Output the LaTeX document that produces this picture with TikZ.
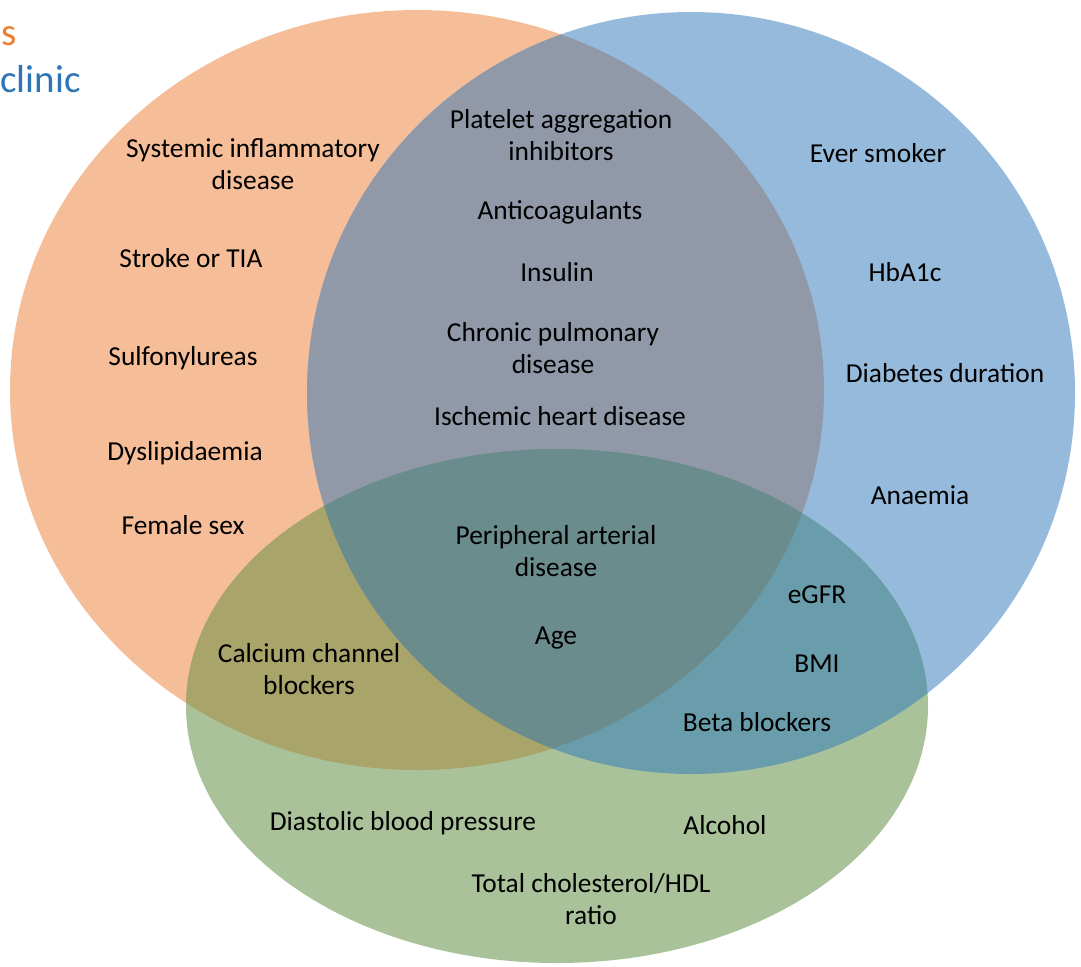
\documentclass[tikz,border=0pt]{standalone}
\usepackage{fontspec}
\setmainfont{Carlito}
\definecolor{vennOrange}{RGB}{245,190,152}
\definecolor{vennBlue}{RGB}{150,186,219}
\definecolor{vennGreen}{RGB}{169,194,153}
\definecolor{vennOB}{RGB}{145,153,168}
\definecolor{vennOG}{RGB}{168,164,106}
\definecolor{vennBG}{RGB}{106,157,172}
\definecolor{vennOBG}{RGB}{107,140,140}
\definecolor{legOrange}{RGB}{237,125,49}
\definecolor{legBlue}{RGB}{46,117,182}
\usepackage{tikz}
\usetikzlibrary{positioning}

\newcommand{\orangeset}{(417,390) ellipse [x radius=407, y radius=380]}
\newcommand{\blueset}{(691,393) ellipse [x radius=384, y radius=381]}
\newcommand{\greenset}{(557,706) ellipse [x radius=371, y radius=257]}

\tikzset{
  factor/.style={align=center, text=black, inner sep=1pt,
    font=\fontsize{13.7}{16}\selectfont},
  legend/.style={inner sep=0pt, font=\fontsize{19.5}{22}\selectfont}
}

\begin{document}
\begin{tikzpicture}[x=0.5pt,y=-0.5pt]
        \useasboundingbox (0,0) rectangle (1081,966);
        % the three sets
        \fill[vennOrange] \orangeset;
        \fill[vennBlue] \blueset;
        \fill[vennGreen] \greenset;
        % pairwise overlaps
        \begin{scope}
          \clip \orangeset;
          \fill[vennOB] \blueset;
          \fill[vennOG] \greenset;
        \end{scope}
        \begin{scope}
          \clip \blueset;
          \fill[vennBG] \greenset;
        \end{scope}
        % centre, all three
        \begin{scope}
          \clip \orangeset;
          \clip \blueset;
          \fill[vennOBG] \greenset;
        \end{scope}
        % legend (cut at the edge)
        \node[legend,text=legOrange,anchor=base west] (legA) at (1,45) {s};
        \node[legend,text=legBlue,anchor=base west] (legB) at (0,92) {clinic};
        % orange only
        \node[factor] (sysinfl) at (253,164) {Systemic inflammatory\\disease};
        \node[factor] (stroke) at (191,258) {Stroke or TIA};
        \node[factor] (sulfo) at (183,358) {Sulfonylureas};
        \node[factor] (dyslip) at (185,453) {Dyslipidaemia};
        \node[factor] (female) at (183,525) {Female sex};
        % orange and blue
        \node[factor] (platelet) at (561,135) {Platelet aggregation\\inhibitors};
        \node[factor] (anticoag) at (560,212) {Anticoagulants};
        \node[factor] (insulin) at (557,272) {Insulin};
        \node[factor] (pulm) at (553,348) {Chronic pulmonary\\disease};
        \node[factor] (ihd) at (560,416) {Ischemic heart disease};
        % blue only
        \node[factor] (smoker) at (878,153) {Ever smoker};
        \node[factor] (hba) at (905,272) {HbA1c};
        \node[factor] (diabdur) at (945,373) {Diabetes duration};
        \node[factor] (anaemia) at (920,495) {Anaemia};
        % all three
        \node[factor] (pad) at (556,551) {Peripheral arterial\\disease};
        \node[factor] (age) at (556,638) {Age};
        % blue and green
        \node[factor] (egfr) at (817,595) {eGFR};
        \node[factor] (bmi) at (817,664) {BMI};
        \node[factor] (betabl) at (757,722) {Beta blockers};
        % orange and green
        \node[factor] (ccb) at (309,669) {Calcium channel\\blockers};
        % green only
        \node[factor] (dbp) at (403,823) {Diastolic blood pressure};
        \node[factor] (alcohol) at (725,825) {Alcohol};
        \node[factor] (chol) at (591,899) {Total cholesterol/HDL\\ratio};
      \end{tikzpicture}
\end{document}
